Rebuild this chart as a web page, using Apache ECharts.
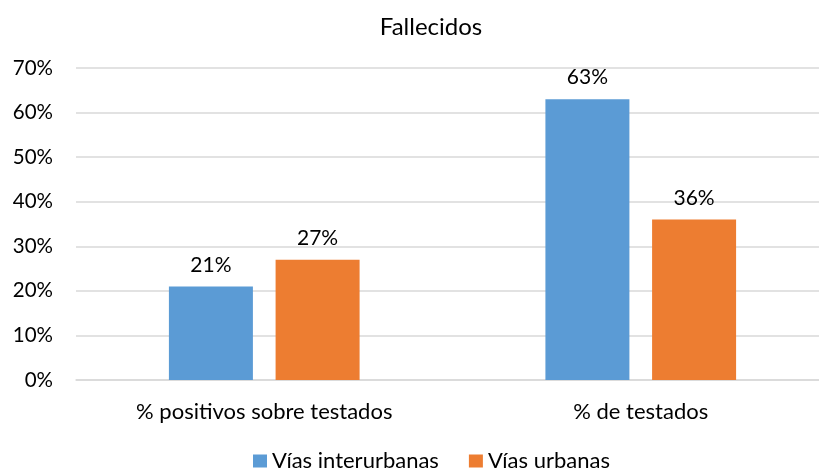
<!DOCTYPE html>
<html><head><meta charset="utf-8">
<script src="https://cdn.jsdelivr.net/npm/echarts@6/dist/echarts.min.js"></script>
<style>html,body{margin:0;padding:0;background:#fff}#c{width:819px;height:475px}</style>
</head><body><div id="c"></div>
<script>
const categories = ['% positivos sobre testados', '% de testados'];
const seriesNames = ['Vías interurbanas', 'Vías urbanas'];
const interurbanas = [21, 63];
const urbanas = [27, 36];
const yTicks = [0, 10, 20, 30, 40, 50, 60, 70];
const colors = ['#5B9BD5', '#ED7D31'];
const font = 'Lato, "Noto Sans", sans-serif';
const chart = echarts.init(document.getElementById('c'));
const lbl = {show: true, position: 'top', distance: 11, formatter: p => p.value + '%', color: '#000', fontSize: 21, fontFamily: font};
chart.setOption({
  animation: false,
  title: {text: 'Fallecidos', left: 426, textAlign: 'center', top: 10, textStyle: {fontSize: 24, fontWeight: 'normal', color: '#000', fontFamily: font}},
  legend: {data: seriesNames, top: 450, left: 253, padding: 0, icon: 'rect', itemWidth: 14, itemHeight: 13, itemGap: 30, textStyle: {fontSize: 22, color: '#000', fontFamily: font}},
  grid: {left: 76, width: 753, top: 68, height: 312, containLabel: false, outerBoundsMode: 'none'},
  xAxis: {type: 'category', data: categories, axisLine: {lineStyle: {color: '#d9d9d9', width: 1.5}}, axisTick: {show: false}, axisLabel: {fontSize: 22, color: '#000', margin: 21, fontFamily: font}},
  yAxis: {type: 'value', min: yTicks[0], max: yTicks[yTicks.length - 1], interval: 10, axisLine: {show: false}, axisTick: {show: false}, splitLine: {lineStyle: {color: '#d9d9d9', width: 1.5}}, axisLabel: {formatter: v => v + '%', fontSize: 20.5, color: '#000', margin: 23, fontFamily: font}},
  series: [
    {name: seriesNames[0], type: 'bar', data: interurbanas, barWidth: 84, barGap: '27%', itemStyle: {color: colors[0]}, label: lbl},
    {name: seriesNames[1], type: 'bar', data: urbanas, barWidth: 84, barGap: '27%', itemStyle: {color: colors[1]}, label: lbl}
  ]
});
</script></body></html>
